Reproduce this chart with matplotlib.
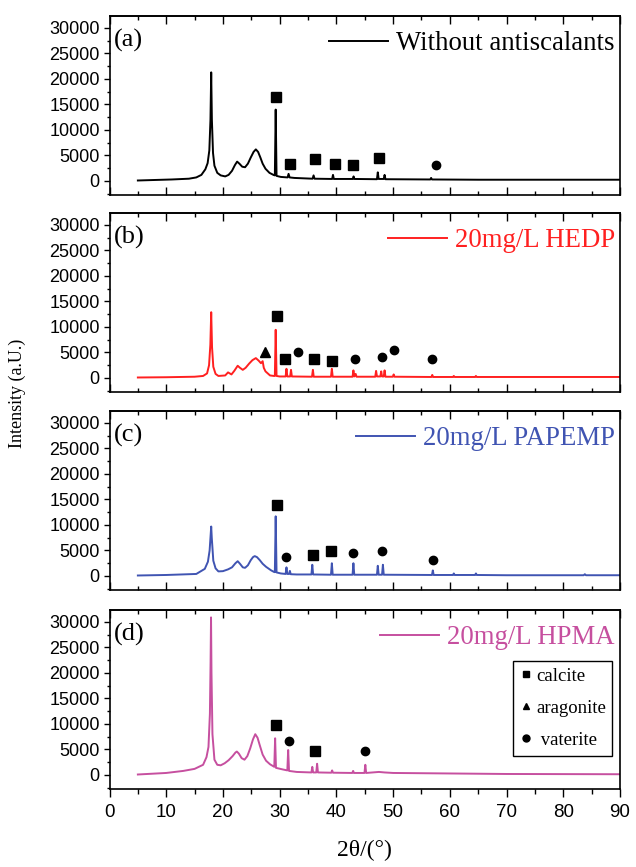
import matplotlib
matplotlib.use("Agg")
import matplotlib.pyplot as plt
from matplotlib.lines import Line2D
from matplotlib.ticker import MultipleLocator

# --- data (2theta in degrees, intensity in a.u.) ---
tt_a = [5, 8, 11, 14, 15.3, 16.2, 16.9, 17.3, 17.6, 17.8, 17.93, 18.05, 18.25, 18.5, 19.0,
        19.6, 20.4, 21.0, 21.6, 22.1, 22.5, 22.9, 23.4, 23.9, 24.4, 24.9, 25.4, 25.8, 26.2,
        26.6, 27.0, 27.5, 28.2, 28.9, 29.15, 29.3, 29.45, 30.2, 31.4, 31.57, 31.75, 32.6,
        35.8, 35.98, 36.15, 39.25, 39.4, 39.55, 42.9, 43.03, 43.18, 47.15, 47.3, 47.45,
        48.35, 48.5, 48.65, 56.55, 56.7, 56.85, 65, 75, 90]
int_a = [100, 200, 300, 450, 700, 1200, 2300, 3500, 6000, 12000, 21300, 12000, 5500, 3000, 1600,
         1100, 900, 1200, 2000, 3100, 3800, 3400, 2800, 2700, 3400, 4600, 5700, 6200, 5700,
         4600, 3400, 2400, 1600, 1200, 1100, 14000, 1000, 800, 700, 1400, 700, 600,
         450, 1100, 450, 400, 1200, 400, 400, 900, 400, 350, 1700, 400,
         400, 1200, 350, 300, 600, 300, 250, 250, 250]

tt_b = [5, 10, 15, 16.5, 17.2, 17.55, 17.78, 17.93, 18.08, 18.3, 18.7, 19.2, 20.4, 20.9, 21.5,
        22.0, 22.6, 23.0, 23.5, 24.0, 24.6, 25.2, 25.8, 26.3, 26.7, 27.0, 27.2, 27.5, 28.3,
        29.0, 29.15, 29.3, 29.45, 30.0, 31.05, 31.2, 31.35, 31.85, 32.0, 32.15, 35.7, 35.86,
        36.0, 39.05, 39.2, 39.35, 42.85, 43.0, 43.15, 43.4, 43.55, 46.85, 47.0, 47.15, 47.75,
        47.9, 48.05, 48.35, 48.5, 48.65, 49.95, 50.1, 50.25, 56.75, 56.9, 57.05, 60.55, 60.7,
        60.85, 64.45, 64.6, 64.75, 70, 80, 90]
int_b = [100, 150, 250, 400, 900, 2500, 6500, 12900, 6000, 2200, 800, 400, 500, 1100, 700,
         1400, 2400, 2000, 1600, 2000, 2800, 3500, 3900, 3400, 2900, 3300, 2000, 1300, 500,
         400, 400, 9450, 400, 300, 300, 1800, 300, 300, 1600, 300, 250, 1600,
         250, 250, 1800, 250, 250, 1500, 300, 800, 250, 250, 1400, 300, 300,
         1300, 300, 300, 1500, 250, 250, 700, 250, 200, 600, 200, 200, 400,
         200, 200, 400, 200, 200, 200, 200]

tt_c = [5, 10, 15.3, 16.8, 17.35, 17.65, 17.83, 17.93, 18.03, 18.3, 18.7, 19.2, 20.0, 20.9,
        21.6, 22.2, 22.6, 23.0, 23.5, 23.9, 24.4, 24.9, 25.3, 25.6, 26.0, 26.5, 27.0, 27.6,
        28.5, 29.0, 29.15, 29.3, 29.45, 30.2, 31.05, 31.2, 31.35, 31.65, 31.8, 31.95, 33,
        35.6, 35.75, 35.9, 39.05, 39.2, 39.35, 42.85, 43.0, 43.15, 47.15, 47.3, 47.45, 48.05,
        48.2, 48.35, 56.85, 57.0, 57.15, 60.55, 60.7, 60.85, 64.45, 64.6, 64.75, 70, 83.6,
        83.8, 84.0, 90]
int_c = [100, 200, 400, 1400, 2800, 5000, 8000, 9700, 7500, 3000, 1500, 900, 950, 1300,
         1700, 2500, 2900, 2400, 1700, 1600, 2100, 3100, 3700, 3900, 3700, 3100, 2400, 1800,
         1100, 800, 750, 11700, 700, 500, 400, 1700, 400, 400, 1000, 350, 300,
         300, 2200, 300, 250, 2500, 250, 250, 2500, 250, 250, 2000, 250, 250,
         2200, 250, 200, 1100, 200, 200, 500, 200, 200, 500, 200, 150, 150,
         350, 150, 150]

tt_d = [5, 10, 13, 15, 16.5, 17.1, 17.45, 17.7, 17.82, 17.9, 17.98, 18.15, 18.5, 19.0, 19.6,
        20.3, 21.0, 21.7, 22.2, 22.45, 22.8, 23.3, 23.8, 24.3, 24.8, 25.3, 25.7, 26.1, 26.5,
        27.0, 27.6, 28.3, 29.05, 29.2, 29.35, 30.5, 31.35, 31.5, 31.65, 33, 35.6, 35.75, 35.9,
        36.45, 36.6, 36.75, 39.1, 39.25, 39.4, 42.8, 42.95, 43.1, 44.95, 45.1, 45.25, 47.5,
        48.5, 50, 60, 70, 90]
int_d = [100, 400, 800, 1200, 2000, 3500, 5500, 12000, 22000, 30900, 20000, 8000, 3000, 2000, 1900,
         2300, 2900, 3700, 4400, 4600, 4200, 3300, 3000, 3700, 5200, 7000, 8000, 7300, 5800,
         4000, 2800, 2100, 1600, 7200, 1400, 1100, 900, 4900, 800, 600, 500, 1600, 500,
         500, 2200, 500, 450, 900, 450, 400, 800, 400, 400, 2000, 400, 600,
         500, 400, 300, 200, 150]

# phase markers: (x, y) per panel
calcite_x = [[29.4, 31.75, 36.3, 39.8, 43.0, 47.6], [29.45, 31.0, 36.0, 39.2],
             [29.45, 35.8, 39.0], [29.3, 36.3]]
calcite_y = [[16400, 3300, 4250, 3300, 3100, 4600], [12200, 3700, 3700, 3300],
             [13900, 4100, 4900], [9800, 4700]]
aragonite_x = [[], [27.5], [], []]
aragonite_y = [[], [5100], [], []]
vaterite_x = [[57.5], [33.2, 43.2, 48.0, 50.1, 56.8], [31.2, 43.0, 48.0, 57.0], [31.6, 45.1]]
vaterite_y = [[3100], [5100, 3700, 4100, 5500, 3700], [3700, 4500, 4900, 3100], [6700, 4700]]

labels = ["Without antiscalants", "20mg/L HEDP", "20mg/L PAPEMP", "20mg/L HPMA"]
tags = ["(a)", "(b)", "(c)", "(d)"]
colors = ["black", "#ff2020", "#4054b2", "#c64f9f"]
series = [(tt_a, int_a), (tt_b, int_b), (tt_c, int_c), (tt_d, int_d)]

SERIF = "Liberation Serif"
SANS = "Liberation Sans"

fig = plt.figure(figsize=(6.36, 8.67), dpi=100)

W, H = 636.0, 867.0
left, right = 109.5, 620.0
tops = [16, 213, 411, 610]
ph = 179

for i in range(4):
    ax = fig.add_axes([left / W, 1 - (tops[i] + ph) / H, (right - left) / W, ph / H])
    x, y = series[i]
    line, = ax.plot(x, y, color=colors[i], lw=1.4)

    ax.plot(calcite_x[i], calcite_y[i], 's', color='black', ms=6.5)
    ax.plot(aragonite_x[i], aragonite_y[i], '^', color='black', ms=6.5)
    ax.plot(vaterite_x[i], vaterite_y[i], 'o', color='black', ms=6)

    ax.set_xlim(0, 90)
    ax.set_ylim(-2745, 32350)
    ax.xaxis.set_major_locator(MultipleLocator(10))
    ax.xaxis.set_minor_locator(MultipleLocator(5))
    ax.yaxis.set_major_locator(MultipleLocator(5000))
    ax.yaxis.set_minor_locator(MultipleLocator(2500))
    for sp in ax.spines.values():
        sp.set_linewidth(1.2)

    ax.tick_params(axis='y', which='major', direction='out', length=4.5, width=1, pad=2.5)
    ax.tick_params(axis='y', which='minor', direction='out', length=2.5, width=1)
    for t in ax.get_yticklabels():
        t.set_fontfamily(SANS)
        t.set_fontsize(13)

    if i < 3:
        ax.tick_params(axis='x', which='major', direction='in', length=6, width=1, labelbottom=False)
        ax.tick_params(axis='x', which='minor', direction='in', length=3, width=1)
    else:
        ax.tick_params(axis='x', which='major', direction='out', length=6, width=1, pad=5)
        ax.tick_params(axis='x', which='minor', direction='out', length=3.5, width=1)
        for t in ax.get_xticklabels():
            t.set_fontfamily(SANS)
            t.set_fontsize(13.5)

    top = ax.secondary_xaxis('top')
    top.xaxis.set_major_locator(MultipleLocator(10))
    top.xaxis.set_minor_locator(MultipleLocator(5))
    top.tick_params(axis='x', which='major', direction='in', length=6, width=1, labeltop=False)
    top.tick_params(axis='x', which='minor', direction='in', length=3, width=1)
    top.spines['top'].set_linewidth(1.2)

    ax.text(0.008, 0.865, tags[i], transform=ax.transAxes, fontfamily=SERIF,
            fontsize=19, ha='left', va='center')

    leg = ax.legend([line], [labels[i]], loc='center right', bbox_to_anchor=(0.99, 0.845),
                    frameon=False, handlelength=2.2, handletextpad=0.3, borderaxespad=0,
                    borderpad=0, labelcolor='linecolor',
                    prop={'family': SERIF, 'size': 19.3})

    if i == 3:
        ax.add_artist(leg)
        handles = [Line2D([], [], marker='s', color='black', ls='none', ms=5),
                   Line2D([], [], marker='^', color='black', ls='none', ms=5),
                   Line2D([], [], marker='o', color='black', ls='none', ms=5)]
        ph_leg = ax.legend(handles, ["calcite", "aragonite", " vaterite"], loc='upper right',
                           bbox_to_anchor=(0.985, 0.715), fancybox=False, framealpha=1,
                           edgecolor='black', handlelength=0.6, handletextpad=0.25,
                           borderpad=0.35, labelspacing=0.8, borderaxespad=0,
                           prop={'family': SERIF, 'size': 13.5})
        ph_leg.get_frame().set_linewidth(1.0)

fig.text(17 / W, 1 - 393 / H, "Intensity (a.U.)", rotation=90, ha='center', va='center',
         fontfamily=SERIF, fontsize=13)
fig.text((left + right) / 2 / W, 1 - 850 / H, "2\u03b8/(\u00b0)", ha='center', va='center',
         fontfamily=SERIF, fontsize=17)

fig.savefig("out.png", dpi=100)
